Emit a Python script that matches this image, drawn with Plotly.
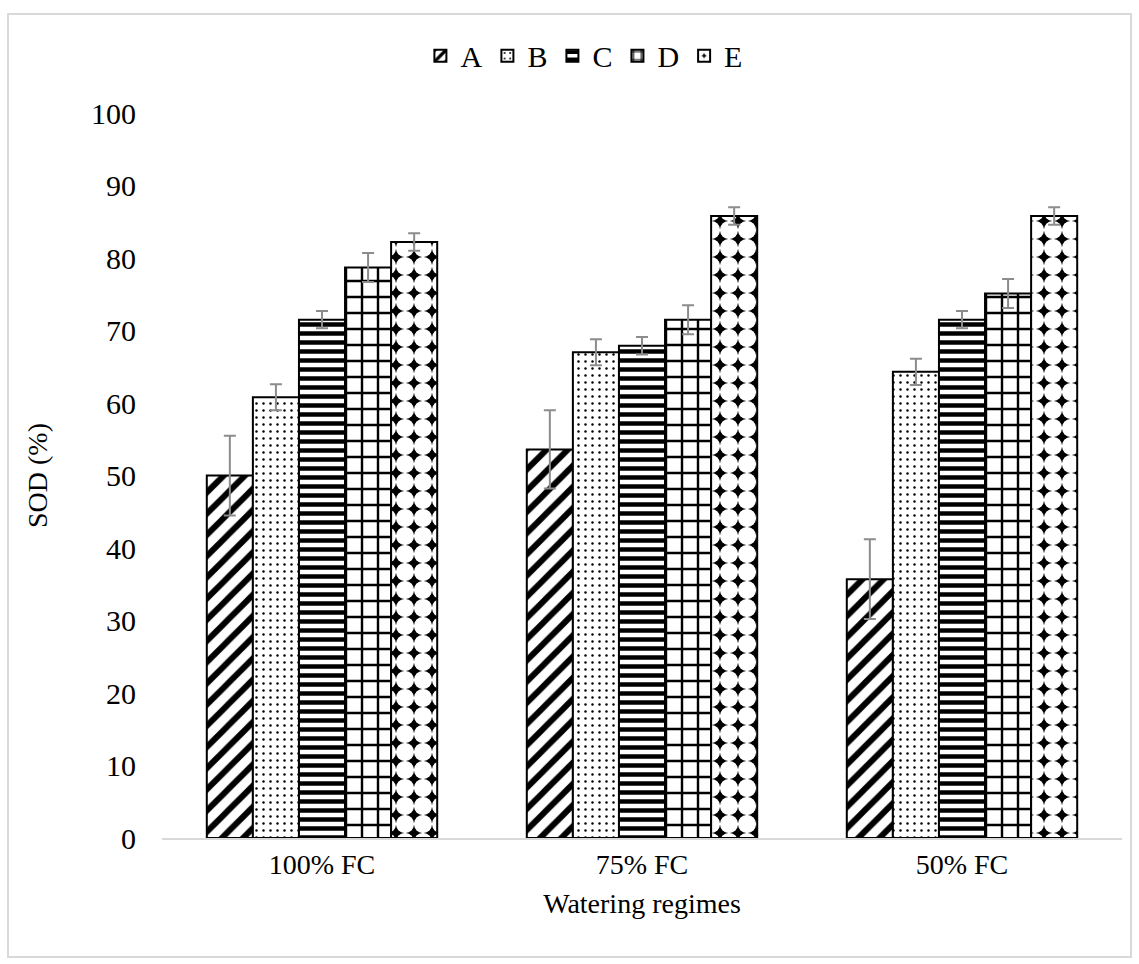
import plotly.graph_objects as go

categories = ["100% FC", "75% FC", "50% FC"]
series_names = ["A", "B", "C", "D", "E"]
A = [50.0, 53.6, 35.7]
B = [60.8, 67.0, 64.3]
C = [71.5, 67.9, 71.5]
D = [78.7, 71.5, 75.1]
E = [82.2, 85.8, 85.8]
errA = [5.5, 5.4, 5.5]
errB = [1.8, 1.8, 1.8]
errC = [1.2, 1.2, 1.2]
errD = [2.0, 2.0, 2.0]
errE = [1.2, 1.2, 1.2]
y_ticks = [0, 10, 20, 30, 40, 50, 60, 70, 80, 90, 100]

values = [A, B, C, D, E]
errors = [errA, errB, errC, errD, errE]
patterns = [
    dict(shape="/", fgcolor="black", bgcolor="white", size=15, solidity=0.4, fillmode="replace"),
    dict(shape=".", fgcolor="black", bgcolor="white", size=7, solidity=0.1, fillmode="replace"),
    dict(shape="-", fgcolor="black", bgcolor="white", size=9, solidity=0.5, fillmode="replace"),
    dict(shape="+", fgcolor="black", bgcolor="white", size=16, solidity=0.28, fillmode="replace"),
    dict(shape=".", fgcolor="white", bgcolor="black", size=18, solidity=0.787, fillmode="replace"),
]

FONT = "Liberation Serif, Times New Roman, serif"
fig = go.Figure()
for name, vals, errs, pat in zip(series_names, values, errors, patterns):
    fig.add_trace(go.Bar(
        name=name, x=categories, y=vals,
        marker=dict(color="white", line=dict(color="black", width=2), pattern=pat),
        error_y=dict(type="data", array=errs, visible=True, color="#8c8c8c", thickness=2, width=6),
    ))

fig.update_layout(
    width=1139, height=964,
    barmode="group", bargap=0.28, bargroupgap=0,
    plot_bgcolor="white", paper_bgcolor="white",
    font=dict(family=FONT, color="black", size=28),
    margin=dict(l=162, r=17, t=113, b=126),
    showlegend=True,
    legend=dict(orientation="h", x=0.44, xanchor="center", y=1.079, yanchor="middle",
                font=dict(size=30, family=FONT), traceorder="normal", itemwidth=30),
    xaxis=dict(showline=True, linecolor="#d9d9d9", linewidth=2, showgrid=False,
               tickfont=dict(size=28, family=FONT), ticks="",
               title=dict(text="Watering regimes", font=dict(size=28, family=FONT), standoff=15)),
    yaxis=dict(range=[0, 100], tickvals=y_ticks, showgrid=False, zeroline=False, showline=False,
               tickfont=dict(size=30, family=FONT), ticks="", ticklabelstandoff=25,
               title=dict(text="SOD (%)", font=dict(size=28, family=FONT), standoff=35)),
    shapes=[dict(type="rect", xref="paper", yref="paper",
                 x0=(8 - 162) / 960, x1=(1131 - 162) / 960,
                 y0=(838 - 957) / 725, y1=(838 - 14) / 725,
                 line=dict(color="#d9d9d9", width=2), fillcolor="rgba(0,0,0,0)", layer="below")],
)

fig.write_html("out.html")
